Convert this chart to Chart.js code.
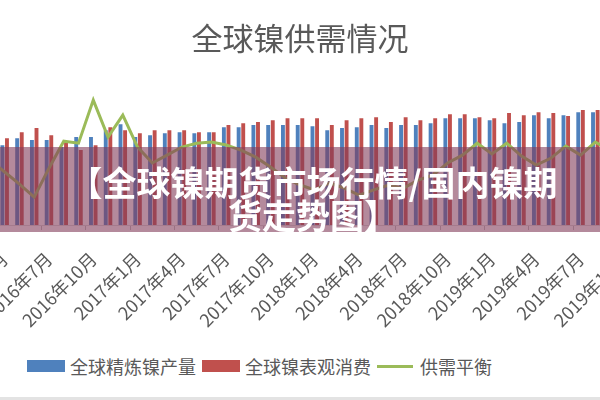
<!DOCTYPE html>
<html lang="zh">
<head>
<meta charset="utf-8">
<script src="https://cdn.jsdelivr.net/npm/chart.js@4.4.1/dist/chart.umd.min.js"></script>
<style>
    html, body {
        margin: 0;
        padding: 0;
        width: 600px;
        height: 400px;
        overflow: hidden;
        background: #fff;
        font-family: "Noto Sans CJK SC", sans-serif;
    }
    #wrap {
        position: absolute;
        left: -47px;
        top: 0;
    }
    .banner {
        position: absolute;
        left: 0;
        top: 147px;
        width: 600px;
        height: 85px;
        box-sizing: border-box;
        padding: 18px 0 0 26px;
        background: rgba(130, 60, 90, 0.6);
        color: #fff;
        font-weight: bold;
        font-size: 34px;
        line-height: 33px;
        text-align: center;
        white-space: nowrap;
    }
    .legende {
        position: absolute;
        left: 27px;
        top: 353px;
        display: flex;
        align-items: center;
        font-size: 18px;
        color: #595959;
        line-height: 26px;
    }
    .legende .carre {
        display: inline-block;
        width: 38px;
        height: 12px;
        margin-right: 5px;
    }
    .legende .trait {
        display: inline-block;
        width: 36px;
        height: 3px;
        margin-right: 7px;
    }
    .legende .item { display: flex; align-items: center; margin-right: 6px; }
    .bas {
        position: absolute;
        left: 0;
        top: 397px;
        width: 600px;
        height: 3px;
        background: #e3e3e3;
    }
</style>
</head>
<body>
<div id="wrap"><canvas id="graphique" width="694" height="335"></canvas></div>
<div class="banner">【全球镍期货市场行情/国内镍期<br>货走势图】</div>
<div class="legende">
    <div class="item"><span class="carre" style="background:#4F81BD"></span>全球精炼镍产量</div>
    <div class="item"><span class="carre" style="background:#C0504D"></span>全球镍表观消费</div>
    <div class="item"><span class="trait" style="background:#9BBB59"></span>供需平衡</div>
</div>
<div class="bas"></div>
<script>
// Mois (axe X)
const mois = [
    "2016年1月", "2016年2月", "2016年3月", "2016年4月", "2016年5月", "2016年6月",
    "2016年7月", "2016年8月", "2016年9月", "2016年10月", "2016年11月", "2016年12月",
    "2017年1月", "2017年2月", "2017年3月", "2017年4月", "2017年5月", "2017年6月",
    "2017年7月", "2017年8月", "2017年9月", "2017年10月", "2017年11月", "2017年12月",
    "2018年1月", "2018年2月", "2018年3月", "2018年4月", "2018年5月", "2018年6月",
    "2018年7月", "2018年8月", "2018年9月", "2018年10月", "2018年11月", "2018年12月",
    "2019年1月", "2019年2月", "2019年3月", "2019年4月", "2019年5月", "2019年6月",
    "2019年7月", "2019年8月", "2019年9月", "2019年10月", "2019年11月"
];

// 全球精炼镍产量
const production = [
    204.0, 201.0, 206.0,
    203.3, 208.0, 206.7, 206.7, 202.0, 208.7, 208.7, 213.3, 217.3, 208.7,
    210.0, 211.3, 212.0, 211.3, 212.0, 215.3, 215.3, 216.7, 216.7, 216.7,
    216.7, 216.0, 213.3, 214.7, 215.3, 216.7, 214.7, 216.7, 216.7, 218.0,
    221.3, 221.3, 221.3, 220.0, 218.0, 218.7, 223.3, 221.3, 223.3, 225.3,
    225.3, 224.0, 226.0, 225.0
];

// 全球镍表观消费
const consommation = [
    210.0, 206.0, 212.0,
    208.0, 212.0, 214.7, 210.0, 204.7, 200.0, 203.3, 215.3, 213.3, 211.3,
    213.3, 213.3, 213.3, 212.0, 212.0, 216.7, 218.0, 218.7, 220.0, 221.3,
    221.3, 221.3, 216.7, 220.0, 221.3, 222.0, 218.7, 222.0, 220.0, 221.3,
    224.0, 224.0, 222.0, 221.3, 224.7, 223.3, 225.3, 224.7, 222.7, 226.7,
    226.7, 227.0, 226.0, 228.0
];

// 供需平衡
const equilibre = [
    -6.7, -2.2, -11.1,
    -16.4, -21.8, -27.6, -14.7, -2.7, -3.6, 15.6, -0.9, 8.9, -5.3,
    -12.4, -8.9, -5.3, -3.6, -3.1, -4.4, -6.7, -9.8, -14.2, -19.1,
    -22.2, -24.4, -21.3, -23.6, -26.7, -24.4, -22.2, -23.6, -20.0, -17.8,
    -12.4, -8.9, -3.6, -8.4, -3.6, -9.3, -13.3, -10.2, -4.9, -8.9,
    -3.1, -6.7, -8.9, -6.7
];

const police = "'Noto Sans CJK SC', sans-serif";

new Chart(document.getElementById("graphique"), {
    type: "bar",
    data: {
        labels: mois,
        datasets: [
            {
                type: "line",
                label: "供需平衡",
                data: equilibre,
                yAxisID: "y1",
                borderColor: "#9BBB59",
                borderWidth: 3,
                pointRadius: 0,
                tension: 0,
                order: 0
            },
            {
                label: "全球精炼镍产量",
                data: production,
                backgroundColor: "#4F81BD",
                categoryPercentage: 0.62,
                barPercentage: 0.85,
                order: 1
            },
            {
                label: "全球镍表观消费",
                data: consommation,
                backgroundColor: "#C0504D",
                categoryPercentage: 0.62,
                barPercentage: 0.85,
                order: 1
            }
        ]
    },
    options: {
        responsive: false,
        animation: false,
        layout: { padding: 0 },
        plugins: {
            legend: { display: false },
            tooltip: { enabled: false },
            title: {
                display: true,
                text: "全球镍供需情况",
                color: "#595959",
                font: { family: police, size: 31, weight: "normal" },
                padding: { top: 20, bottom: 33 }
            }
        },
        scales: {
            x: {
                afterFit: s => { s.height = 110; s.paddingLeft = 0; s.paddingRight = 0; },
                border: { color: "#d9d9d9" },
                grid: {
                    offset: true,
                    drawOnChartArea: false,
                    tickLength: 5,
                    color: ctx => ctx.index % 3 === 0 ? "#bfbfbf" : "transparent"
                },
                ticks: {
                    autoSkip: false,
                    maxRotation: 45,
                    minRotation: 45,
                    padding: 18,
                    color: "#595959",
                    font: { family: police, size: 18 },
                    // le premier libellé est hors cadre : vide pour ne pas décaler la zone
                    callback: (v, i) => (i > 0 && i % 3 === 0) ? mois[i] : ""
                }
            },
            y: { display: false, min: 150, max: 240 },
            y1: { display: false, min: -40, max: 20 }
        }
    }
});
</script>
</body>
</html>
